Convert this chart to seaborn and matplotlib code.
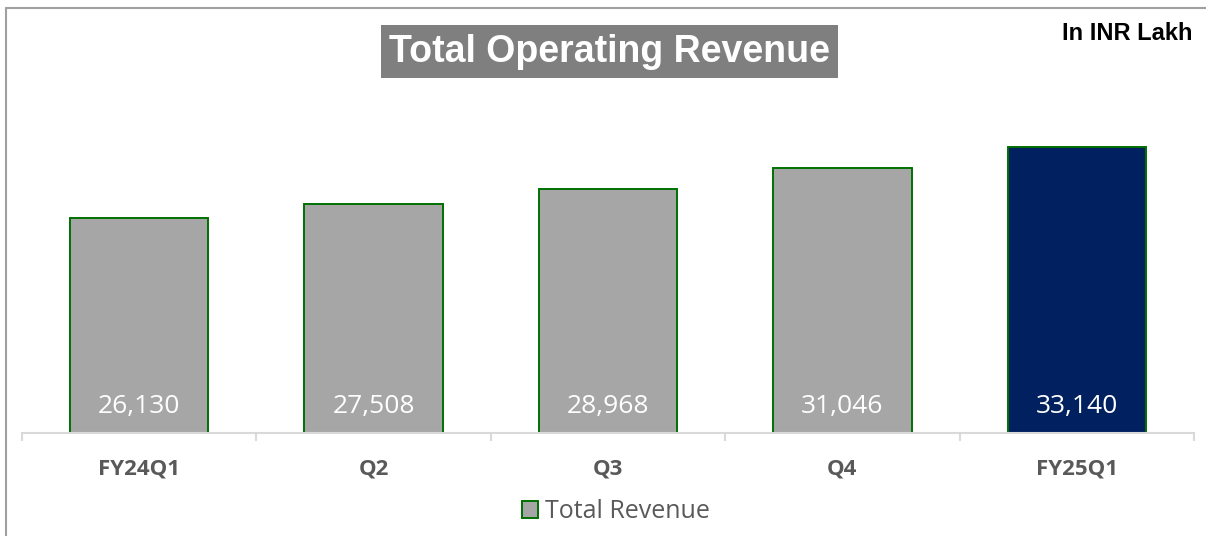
import pandas as pd
import seaborn as sns
import matplotlib.pyplot as plt
from matplotlib.patches import Patch
from matplotlib.lines import Line2D

quarters = ['FY24Q1', 'Q2', 'Q3', 'Q4', 'FY25Q1']
revenue = [26130, 27508, 28968, 31046, 33140]
bar_colors = ['#A6A6A6', '#A6A6A6', '#A6A6A6', '#A6A6A6', '#002060']

sns.set_style("white")
plt.rcParams['font.family'] = ['Open Sans', 'DejaVu Sans']

W, H = 1206, 536
fig = plt.figure(figsize=(W / 100, H / 100), dpi=100)
ax = fig.add_axes([22 / W, 103 / H, (1194 - 22) / W, (433 - 77) / H])

data = pd.DataFrame({'quarter': quarters, 'revenue': revenue})
sns.barplot(data=data, x='quarter', y='revenue', hue='quarter', palette=bar_colors,
            saturation=1, width=0.59, edgecolor='#007000', linewidth=1.4,
            legend=False, ax=ax)

ax.set_ylim(5000, 40000)
ax.set_xlim(-0.5, 4.5)
ax.set_xlabel('')
ax.set_ylabel('')
ax.set_yticks([])
for s in ['top', 'right', 'left']:
    ax.spines[s].set_visible(False)
ax.spines['bottom'].set_color('#D9D9D9')
ax.spines['bottom'].set_linewidth(1.5)

ax.set_xticks(range(len(quarters)))
ax.set_xticklabels(quarters, fontsize=16, fontweight='bold', color='#595959')
ax.tick_params(axis='x', which='major', length=0, pad=18)
ax.set_xticks([i - 0.5 for i in range(len(quarters) + 1)], minor=True)
ax.tick_params(axis='x', which='minor', bottom=True, length=6, width=1.5,
               color='#D9D9D9', direction='out')

for i, v in enumerate(revenue):
    ax.text(i, 7600, f'{v:,}', ha='center', va='center', color='white', fontsize=19)

# title box
fig.text(609.5 / W, 1 - 51.5 / H, 'Total Operating Revenue', ha='center', va='center',
         fontsize=27, fontweight='bold', color='white', family=['Liberation Sans'],
         bbox=dict(boxstyle='square,pad=0.22', facecolor='#7F7F7F', edgecolor='none'))
fig.text(1192 / W, 1 - 34 / H, 'In INR Lakh', ha='right', va='center',
         fontsize=17, fontweight='bold', color='black', family=['Liberation Sans'])

handle = Patch(facecolor='#A6A6A6', edgecolor='#007000', linewidth=1.4)
fig.legend([handle], ['Total Revenue'], loc='center', bbox_to_anchor=(616 / W, 1 - 512 / H),
           frameon=False, fontsize=18, labelcolor='#595959', handlelength=0.65,
           handleheight=0.65, handletextpad=0.3)

# chart frame (top and left edges)
fig.add_artist(Line2D([6 / W, 1], [1 - 8 / H, 1 - 8 / H], color='#A0A0A0', lw=1.5))
fig.add_artist(Line2D([6 / W, 6 / W], [0, 1 - 8 / H], color='#A0A0A0', lw=1.5))

fig.savefig('out.png', dpi=100)
